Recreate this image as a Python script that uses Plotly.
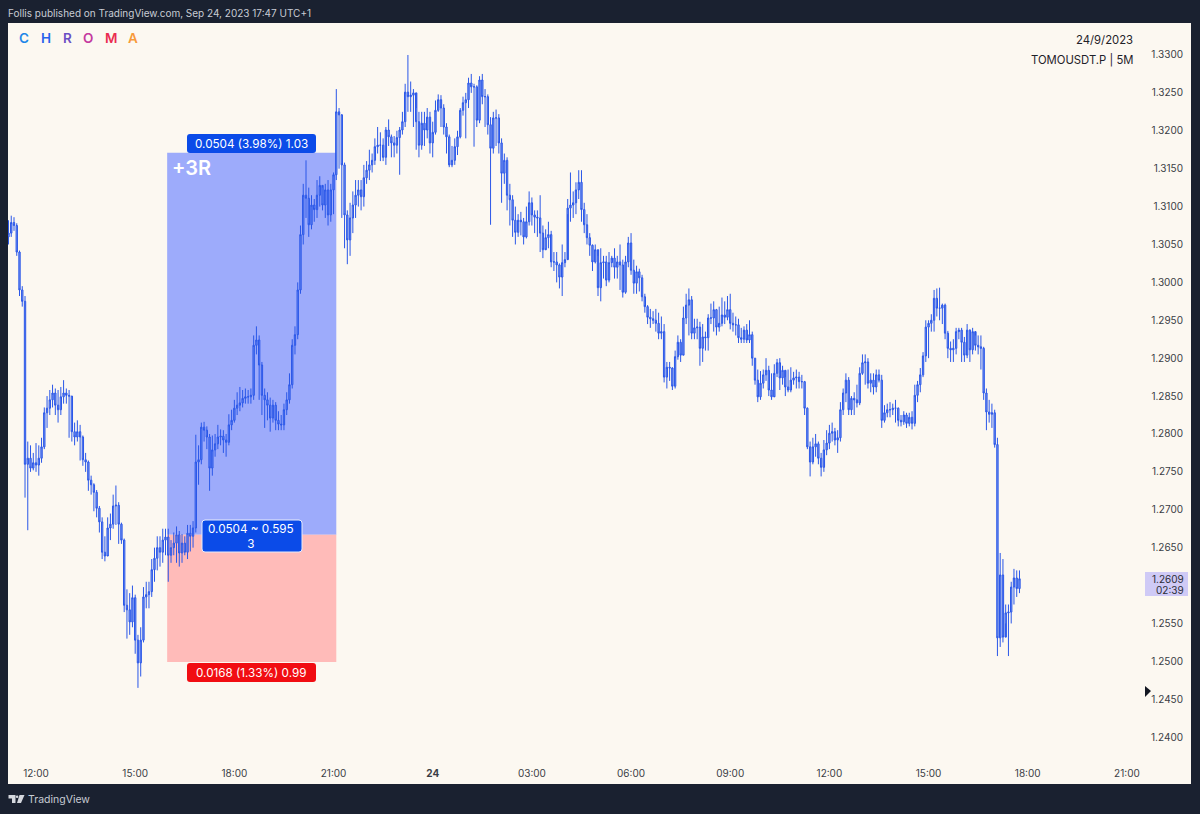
import pandas as pd
import plotly.graph_objects as go

# 5 minute bars, one row per hour
first_open = 1.3060
closes = [
    1.3065, 1.3079, 1.3075, 1.3040, 1.2990, 1.2975, 1.2760, 1.2768, 1.2755, 1.2762,
    1.2759, 1.2768, 1.2783, 1.2828, 1.2834, 1.2845, 1.2854, 1.2838, 1.2832, 1.2849, 1.2854, 1.2851,
    1.2850, 1.2803, 1.2796, 1.2803, 1.2796, 1.2766, 1.2763, 1.2739, 1.2733, 1.2723, 1.2702, 1.2684,
    1.2644, 1.2639, 1.2676, 1.2681, 1.2705, 1.2706, 1.2681, 1.2660, 1.2574, 1.2568, 1.2552, 1.2584,
    1.2528, 1.2498, 1.2528, 1.2585, 1.2588, 1.2592, 1.2621, 1.2636, 1.2650, 1.2644, 1.2660, 1.2664,
    1.2640, 1.2650, 1.2656, 1.2667, 1.2643, 1.2656, 1.2644, 1.2669, 1.2665, 1.2676, 1.2763, 1.2766,
    1.2809, 1.2805, 1.2796, 1.2755, 1.2779, 1.2787, 1.2796, 1.2797, 1.2792, 1.2789, 1.2812, 1.2818,
    1.2834, 1.2838, 1.2841, 1.2847, 1.2849, 1.2849, 1.2851, 1.2917, 1.2924, 1.2891, 1.2851, 1.2845,
    1.2838, 1.2821, 1.2838, 1.2818, 1.2813, 1.2812, 1.2832, 1.2845, 1.2865, 1.2917, 1.2931, 1.2990,
    1.3063, 1.3115, 1.3111, 1.3076, 1.3102, 1.3096, 1.3115, 1.3128, 1.3102, 1.3122, 1.3089, 1.3122,
    1.3142, 1.3225, 1.3221, 1.3155, 1.3089, 1.3056, 1.3085, 1.3102, 1.3115, 1.3122, 1.3113, 1.3138,
    1.3148, 1.3155, 1.3161, 1.3179, 1.3181, 1.3181, 1.3165, 1.3201, 1.3192, 1.3184, 1.3181, 1.3191,
    1.3201, 1.3212, 1.3251, 1.3245, 1.3247, 1.3250, 1.3212, 1.3181, 1.3210, 1.3201, 1.3218, 1.3184,
    1.3198, 1.3227, 1.3241, 1.3230, 1.3205, 1.3192, 1.3155, 1.3161, 1.3179, 1.3192, 1.3227, 1.3237,
    1.3241, 1.3263, 1.3258, 1.3258, 1.3214, 1.3267, 1.3245, 1.3245, 1.3208, 1.3177, 1.3217, 1.3217,
    1.3184, 1.3144, 1.3161, 1.3115, 1.3109, 1.3082, 1.3066, 1.3082, 1.3080, 1.3060, 1.3080, 1.3105,
    1.3089, 1.3086, 1.3085, 1.3065, 1.3043, 1.3059, 1.3063, 1.3027, 1.3027, 1.3023, 1.3007, 1.3026,
    1.3030, 1.3098, 1.3102, 1.3105, 1.3122, 1.3132, 1.3096, 1.3076, 1.3059, 1.3049, 1.3027, 1.3043,
    1.2993, 1.3026, 1.3027, 1.3003, 1.3026, 1.3032, 1.3020, 1.3027, 1.3023, 1.2987, 1.3027, 1.3052,
    1.3016, 1.2999, 1.3014, 1.3006, 1.2981, 1.2968, 1.2954, 1.2952, 1.2950, 1.2946, 1.2933, 1.2935,
    1.2875, 1.2888, 1.2887, 1.2863, 1.2902, 1.2921, 1.2904, 1.2953, 1.2970, 1.2977, 1.2933, 1.2940,
    1.2941, 1.2913, 1.2928, 1.2927, 1.2953, 1.2953, 1.2964, 1.2941, 1.2946, 1.2957, 1.2954, 1.2964,
    1.2946, 1.2944, 1.2944, 1.2927, 1.2925, 1.2937, 1.2924, 1.2931, 1.2900, 1.2871, 1.2849, 1.2867,
    1.2878, 1.2884, 1.2858, 1.2849, 1.2880, 1.2894, 1.2874, 1.2884, 1.2862, 1.2858, 1.2871, 1.2874,
    1.2875, 1.2869, 1.2869, 1.2834, 1.2783, 1.2763, 1.2783, 1.2787, 1.2768, 1.2756, 1.2779, 1.2788,
    1.2801, 1.2803, 1.2792, 1.2795, 1.2832, 1.2854, 1.2871, 1.2832, 1.2847, 1.2845, 1.2841, 1.2880,
    1.2894, 1.2895, 1.2867, 1.2871, 1.2862, 1.2878, 1.2871, 1.2818, 1.2828, 1.2832, 1.2832, 1.2834,
    1.2834, 1.2818, 1.2816, 1.2825, 1.2814, 1.2822, 1.2814, 1.2851, 1.2865, 1.2878, 1.2903, 1.2941,
    1.2946, 1.2950, 1.2979, 1.2966, 1.2966, 1.2970, 1.2933, 1.2913, 1.2911, 1.2913, 1.2935, 1.2937,
    1.2921, 1.2904, 1.2937, 1.2911, 1.2935, 1.2917, 1.2915, 1.2913, 1.2854, 1.2829, 1.2826, 1.2828,
    1.2786, 1.2531, 1.2614, 1.2532, 1.2564, 1.2565, 1.2598, 1.2610, 1.2596, 1.2609,
]
highs = [
    1.3082, 1.3088, 1.3086, 1.3078, 1.3042, 1.2995, 1.2982, 1.2790, 1.2785, 1.2775,
    1.2788, 1.2785, 1.2795, 1.2835, 1.2850, 1.2858, 1.2865, 1.2860, 1.2858, 1.2862, 1.2871, 1.2860,
    1.2858, 1.2850, 1.2815, 1.2818, 1.2812, 1.2798, 1.2775, 1.2765, 1.2745, 1.2735, 1.2726, 1.2705,
    1.2690, 1.2665, 1.2690, 1.2695, 1.2720, 1.2732, 1.2710, 1.2683, 1.2662, 1.2595, 1.2590, 1.2600,
    1.2588, 1.2535, 1.2545, 1.2598, 1.2605, 1.2605, 1.2635, 1.2650, 1.2665, 1.2665, 1.2675, 1.2675,
    1.2675, 1.2660, 1.2670, 1.2678, 1.2672, 1.2668, 1.2665, 1.2680, 1.2680, 1.2685, 1.2799, 1.2785,
    1.2815, 1.2816, 1.2810, 1.2800, 1.2798, 1.2800, 1.2812, 1.2806, 1.2805, 1.2800, 1.2826, 1.2832,
    1.2845, 1.2855, 1.2862, 1.2858, 1.2860, 1.2858, 1.2860, 1.2930, 1.2942, 1.2930, 1.2895, 1.2860,
    1.2855, 1.2848, 1.2845, 1.2842, 1.2830, 1.2825, 1.2840, 1.2855, 1.2880, 1.2925, 1.2942, 1.3000,
    1.3075, 1.3130, 1.3161, 1.3125, 1.3115, 1.3110, 1.3135, 1.3140, 1.3125, 1.3130, 1.3135, 1.3130,
    1.3145, 1.3255, 1.3230, 1.3222, 1.3158, 1.3095, 1.3105, 1.3120, 1.3135, 1.3135, 1.3135, 1.3155,
    1.3160, 1.3175, 1.3170, 1.3190, 1.3205, 1.3198, 1.3190, 1.3205, 1.3215, 1.3195, 1.3193, 1.3200,
    1.3205, 1.3225, 1.3262, 1.3300, 1.3265, 1.3255, 1.3230, 1.3225, 1.3225, 1.3225, 1.3230, 1.3225,
    1.3212, 1.3240, 1.3248, 1.3247, 1.3235, 1.3210, 1.3195, 1.3180, 1.3190, 1.3200, 1.3230, 1.3245,
    1.3250, 1.3270, 1.3275, 1.3262, 1.3260, 1.3272, 1.3275, 1.3255, 1.3248, 1.3218, 1.3225, 1.3228,
    1.3222, 1.3190, 1.3170, 1.3165, 1.3130, 1.3115, 1.3100, 1.3090, 1.3093, 1.3085, 1.3100, 1.3120,
    1.3112, 1.3095, 1.3095, 1.3115, 1.3075, 1.3070, 1.3080, 1.3068, 1.3040, 1.3040, 1.3025, 1.3050,
    1.3040, 1.3110, 1.3145, 1.3120, 1.3132, 1.3148, 1.3148, 1.3105, 1.3090, 1.3065, 1.3050, 1.3050,
    1.3035, 1.3045, 1.3035, 1.3035, 1.3040, 1.3035, 1.3045, 1.3035, 1.3050, 1.3030, 1.3035, 1.3060,
    1.3065, 1.3030, 1.3022, 1.3018, 1.3010, 1.2985, 1.2970, 1.2965, 1.2962, 1.2965, 1.2960, 1.2955,
    1.2945, 1.2895, 1.2895, 1.2888, 1.2910, 1.2930, 1.2925, 1.2968, 1.2985, 1.2992, 1.2982, 1.2952,
    1.2952, 1.2948, 1.2945, 1.2935, 1.2958, 1.2972, 1.2975, 1.2965, 1.2968, 1.2980, 1.2975, 1.2982,
    1.2985, 1.2960, 1.2955, 1.2952, 1.2940, 1.2942, 1.2945, 1.2950, 1.2935, 1.2900, 1.2885, 1.2883,
    1.2885, 1.2900, 1.2890, 1.2880, 1.2892, 1.2899, 1.2900, 1.2890, 1.2875, 1.2885, 1.2888, 1.2882,
    1.2885, 1.2882, 1.2878, 1.2870, 1.2835, 1.2790, 1.2795, 1.2800, 1.2790, 1.2775, 1.2792, 1.2805,
    1.2812, 1.2815, 1.2808, 1.2805, 1.2842, 1.2860, 1.2880, 1.2875, 1.2850, 1.2855, 1.2865, 1.2888,
    1.2905, 1.2905, 1.2900, 1.2880, 1.2880, 1.2885, 1.2885, 1.2878, 1.2838, 1.2840, 1.2842, 1.2840,
    1.2845, 1.2835, 1.2825, 1.2830, 1.2828, 1.2828, 1.2830, 1.2865, 1.2870, 1.2887, 1.2908, 1.2950,
    1.2950, 1.2958, 1.2990, 1.2992, 1.2993, 1.2972, 1.2972, 1.2936, 1.2922, 1.2925, 1.2940, 1.2940,
    1.2940, 1.2928, 1.2945, 1.2938, 1.2940, 1.2930, 1.2930, 1.2930, 1.2915, 1.2860, 1.2845, 1.2840,
    1.2832, 1.2795, 1.2643, 1.2635, 1.2575, 1.2575, 1.2605, 1.2622, 1.2620, 1.2620,
]
lows = [
    1.3050, 1.3060, 1.3068, 1.3035, 1.2982, 1.2968, 1.2716, 1.2673, 1.2750, 1.2752,
    1.2750, 1.2745, 1.2762, 1.2780, 1.2808, 1.2825, 1.2835, 1.2825, 1.2815, 1.2825, 1.2840, 1.2840,
    1.2795, 1.2790, 1.2785, 1.2790, 1.2765, 1.2758, 1.2750, 1.2725, 1.2720, 1.2698, 1.2690, 1.2670,
    1.2635, 1.2632, 1.2640, 1.2660, 1.2675, 1.2680, 1.2655, 1.2655, 1.2565, 1.2530, 1.2535, 1.2545,
    1.2510, 1.2465, 1.2480, 1.2525, 1.2570, 1.2570, 1.2585, 1.2605, 1.2620, 1.2625, 1.2630, 1.2640,
    1.2605, 1.2630, 1.2640, 1.2630, 1.2625, 1.2630, 1.2640, 1.2635, 1.2645, 1.2650, 1.2670, 1.2733,
    1.2760, 1.2790, 1.2780, 1.2725, 1.2745, 1.2770, 1.2780, 1.2785, 1.2775, 1.2770, 1.2785, 1.2805,
    1.2815, 1.2825, 1.2830, 1.2835, 1.2840, 1.2840, 1.2840, 1.2845, 1.2905, 1.2845, 1.2825, 1.2808,
    1.2818, 1.2803, 1.2815, 1.2805, 1.2805, 1.2805, 1.2805, 1.2825, 1.2840, 1.2860, 1.2905, 1.2925,
    1.2985, 1.3050, 1.3085, 1.3060, 1.3070, 1.3080, 1.3085, 1.3100, 1.3095, 1.3085, 1.3075, 1.3080,
    1.3090, 1.3135, 1.3150, 1.3085, 1.3045, 1.3024, 1.3035, 1.3065, 1.3085, 1.3100, 1.3095, 1.3100,
    1.3130, 1.3135, 1.3145, 1.3155, 1.3170, 1.3160, 1.3160, 1.3155, 1.3180, 1.3165, 1.3165, 1.3170,
    1.3142, 1.3195, 1.3205, 1.3225, 1.3225, 1.3205, 1.3175, 1.3165, 1.3175, 1.3180, 1.3190, 1.3170,
    1.3165, 1.3195, 1.3225, 1.3205, 1.3195, 1.3170, 1.3152, 1.3152, 1.3155, 1.3168, 1.3190, 1.3220,
    1.3190, 1.3230, 1.3250, 1.3179, 1.3205, 1.3210, 1.3235, 1.3205, 1.3195, 1.3076, 1.3170, 1.3180,
    1.3170, 1.3105, 1.3130, 1.3095, 1.3075, 1.3060, 1.3050, 1.3060, 1.3062, 1.3050, 1.3058, 1.3075,
    1.3075, 1.3065, 1.3060, 1.3040, 1.3032, 1.3045, 1.3045, 1.3020, 1.3015, 1.3000, 1.2992, 1.2982,
    1.3020, 1.3090, 1.3080, 1.3085, 1.3090, 1.3110, 1.3080, 1.3065, 1.3050, 1.3035, 1.3015, 1.3025,
    1.2982, 1.2975, 1.3005, 1.2995, 1.3000, 1.3020, 1.3005, 1.3005, 1.2990, 1.2980, 1.2985, 1.3020,
    1.3010, 1.2985, 1.2985, 1.2988, 1.2975, 1.2960, 1.2945, 1.2940, 1.2945, 1.2935, 1.2925, 1.2925,
    1.2868, 1.2860, 1.2870, 1.2858, 1.2860, 1.2898, 1.2895, 1.2905, 1.2945, 1.2930, 1.2925, 1.2925,
    1.2925, 1.2890, 1.2895, 1.2910, 1.2910, 1.2945, 1.2935, 1.2930, 1.2935, 1.2942, 1.2945, 1.2950,
    1.2938, 1.2935, 1.2930, 1.2920, 1.2920, 1.2920, 1.2920, 1.2920, 1.2890, 1.2865, 1.2842, 1.2845,
    1.2860, 1.2870, 1.2850, 1.2845, 1.2850, 1.2875, 1.2858, 1.2865, 1.2850, 1.2855, 1.2855, 1.2865,
    1.2860, 1.2860, 1.2860, 1.2825, 1.2780, 1.2744, 1.2760, 1.2770, 1.2760, 1.2744, 1.2750, 1.2772,
    1.2780, 1.2790, 1.2785, 1.2775, 1.2790, 1.2825, 1.2842, 1.2825, 1.2825, 1.2825, 1.2835, 1.2838,
    1.2878, 1.2865, 1.2860, 1.2855, 1.2852, 1.2855, 1.2868, 1.2808, 1.2815, 1.2822, 1.2822, 1.2825,
    1.2815, 1.2810, 1.2810, 1.2812, 1.2808, 1.2810, 1.2806, 1.2810, 1.2842, 1.2855, 1.2875, 1.2895,
    1.2900, 1.2935, 1.2935, 1.2955, 1.2950, 1.2945, 1.2925, 1.2900, 1.2895, 1.2895, 1.2905, 1.2925,
    1.2895, 1.2895, 1.2900, 1.2895, 1.2905, 1.2910, 1.2905, 1.2885, 1.2845, 1.2805, 1.2815, 1.2808,
    1.2782, 1.2507, 1.2519, 1.2525, 1.2550, 1.2507, 1.2550, 1.2575, 1.2585, 1.2590,
]

opens = [first_open] + closes[:-1]
times = pd.date_range("2023-09-23 11:10", periods=len(closes), freq="5min")

# long position tool
entry_price = 1.2667
target_price = 1.3171
stop_price = 1.2499
entry_time = "2023-09-23 15:58"
exit_time = "2023-09-23 21:05"

price_ticks = [1.33, 1.325, 1.32, 1.315, 1.31, 1.305, 1.30, 1.295, 1.29, 1.285, 1.28, 1.275, 1.27, 1.265,
               1.255, 1.25, 1.245, 1.24]
time_ticks = ["2023-09-23 12:00", "2023-09-23 15:00", "2023-09-23 18:00", "2023-09-23 21:00",
              "2023-09-24 00:00", "2023-09-24 03:00", "2023-09-24 06:00", "2023-09-24 09:00",
              "2023-09-24 12:00", "2023-09-24 15:00", "2023-09-24 18:00", "2023-09-24 21:00"]
time_labels = ["12:00", "15:00", "18:00", "21:00", "<b>24</b>", "03:00", "06:00", "09:00",
               "12:00", "15:00", "18:00", "21:00"]

chroma_letters = ["C", "H", "R", "O", "M", "A"]
chroma_colors = ["#1c86e8", "#2563eb", "#6a4fc4", "#c43aa0", "#ea2c50", "#f79a3c"]
chroma_x = [24, 46, 67, 88, 111, 133]

W, H = 1200, 814
ML, MR, MT, MB = 8, 9, 23, 30
FONT = "Inter"


def fx(px):
    return (px - ML) / (W - ML - MR)


def fy(py):
    return 1 - (py - MT) / (H - MT - MB)


def rounded_box(x0, y0, x1, y1, color, line=None, r=3):
    path = (f"M {fx(x0 + r)} {fy(y0)} L {fx(x1 - r)} {fy(y0)} Q {fx(x1)} {fy(y0)} {fx(x1)} {fy(y0 + r)} "
            f"L {fx(x1)} {fy(y1 - r)} Q {fx(x1)} {fy(y1)} {fx(x1 - r)} {fy(y1)} "
            f"L {fx(x0 + r)} {fy(y1)} Q {fx(x0)} {fy(y1)} {fx(x0)} {fy(y1 - r)} "
            f"L {fx(x0)} {fy(y0 + r)} Q {fx(x0)} {fy(y0)} {fx(x0 + r)} {fy(y0)} Z")
    return dict(type="path", path=path, xref="paper", yref="paper", fillcolor=color, layer="above",
                line=dict(color=line or color, width=1 if line else 0))


def px_poly(points, color):
    path = "M " + " L ".join(f"{fx(a)} {fy(b)}" for a, b in points) + " Z"
    return dict(type="path", path=path, xref="paper", yref="paper", fillcolor=color, layer="above",
                line=dict(width=0))


def label(px, py, text, size=11.7, color="#ffffff", anchor="center", weight=None):
    font = dict(family=FONT, size=size, color=color)
    if weight:
        font["weight"] = weight
    return dict(x=fx(px), y=fy(py), xref="paper", yref="paper", text=text, showarrow=False,
                xanchor=anchor, yanchor="middle", font=font, align=anchor)


fig = go.Figure()
fig.add_trace(go.Candlestick(
    x=times, open=opens, high=highs, low=lows, close=closes,
    increasing=dict(line=dict(color="#2a57e8", width=1), fillcolor="rgba(95,130,240,0.8)"),
    decreasing=dict(line=dict(color="#2a57e8", width=1), fillcolor="rgba(95,130,240,0.8)"),
    showlegend=False,
))

shapes = [
    dict(type="rect", xref="x", yref="y", x0=entry_time, x1=exit_time, y0=entry_price, y1=target_price,
         fillcolor="#9dabfb", line=dict(width=0), layer="below"),
    dict(type="rect", xref="x", yref="y", x0=entry_time, x1=exit_time, y0=stop_price, y1=entry_price,
         fillcolor="#ffbbb9", line=dict(width=0), layer="below"),
    rounded_box(187, 134, 316, 153, "#0b4be8"),
    rounded_box(202, 520, 302, 552, "#0b4be8", line="#e8ecfb"),
    rounded_box(187, 663, 316, 682, "#f10d12"),
    dict(type="rect", xref="paper", yref="paper", x0=fx(1145), x1=fx(1188), y0=fy(596), y1=fy(572),
         fillcolor="#cfcaf6", line=dict(width=0), layer="above"),
    px_poly([(1145, 686), (1151, 691), (1145, 697)], "#131722"),
    # TradingView mark
    px_poly([(8.5, 795), (15.5, 795), (15.5, 803), (12, 803), (12, 798.5), (8.5, 798.5)], "#d5d8de"),
    px_poly([(19.5, 795), (24.5, 795), (21, 803), (17, 803)], "#d5d8de"),
    dict(type="circle", xref="paper", yref="paper", x0=fx(15.8), x1=fx(18.4), y0=fy(798), y1=fy(795.4),
         fillcolor="#d5d8de", line=dict(width=0), layer="above"),
]

annotations = [
    label(6, 13, "Follis published on TradingView.com, Sep 24, 2023 17:47 UTC+1", size=10,
          color="#c8ccd4", anchor="left"),
    label(26, 799, "TradingView", size=10.5, color="#c8ccd4", anchor="left"),
    label(1135, 40, "24/9/2023", size=11.3, color="#1f2229", anchor="right"),
    label(1135, 60, "TOMOUSDT.P | 5M", size=11.3, color="#1f2229", anchor="right"),
    label(170, 168, "+3R", size=20, anchor="left", weight=600),
    label(251, 144, "0.0504 (3.98%) 1.03"),
    label(251, 536, "0.0504 ~ 0.595<br>3"),
    label(251, 673, "0.0168 (1.33%) 0.99"),
    label(1186, 579, "1.2609", size=10, color="#2b2d36", anchor="right"),
    label(1186, 590, "02:39", size=10, color="#2b2d36", anchor="right"),
]
for letter, color, px in zip(chroma_letters, chroma_colors, chroma_x):
    annotations.append(label(px, 38, letter, size=13.5, color=color, weight=600))

fig.update_layout(
    width=W, height=H,
    margin=dict(l=ML, r=MR, t=MT, b=MB),
    paper_bgcolor="#1a2130",
    plot_bgcolor="#fcf8f1",
    font=dict(family=FONT, color="#3a3d45"),
    shapes=shapes,
    annotations=annotations,
    showlegend=False,
    xaxis=dict(
        range=["2023-09-23 11:09:07", "2023-09-24 22:56:20"],
        rangeslider=dict(visible=False),
        showgrid=False, zeroline=False, showline=False,
        tickmode="array", tickvals=time_ticks, ticktext=time_labels,
        ticks="", ticklabelposition="inside", ticklabelstandoff=2,
        tickfont=dict(family=FONT, size=10, color="#3a3d45"),
        tickangle=0,
    ),
    yaxis=dict(
        range=[1.23382, 1.33422],
        side="right",
        showgrid=False, zeroline=False, showline=False,
        tickmode="array", tickvals=price_ticks, ticktext=[f"{p:.4f}" for p in price_ticks],
        ticks="", ticklabelposition="inside", ticklabelstandoff=5,
        tickfont=dict(family=FONT, size=10, color="#3a3d45"),
    ),
)

fig.write_html("out.html", config={"displayModeBar": False},
               post_script="document.body.style.margin='0'")
